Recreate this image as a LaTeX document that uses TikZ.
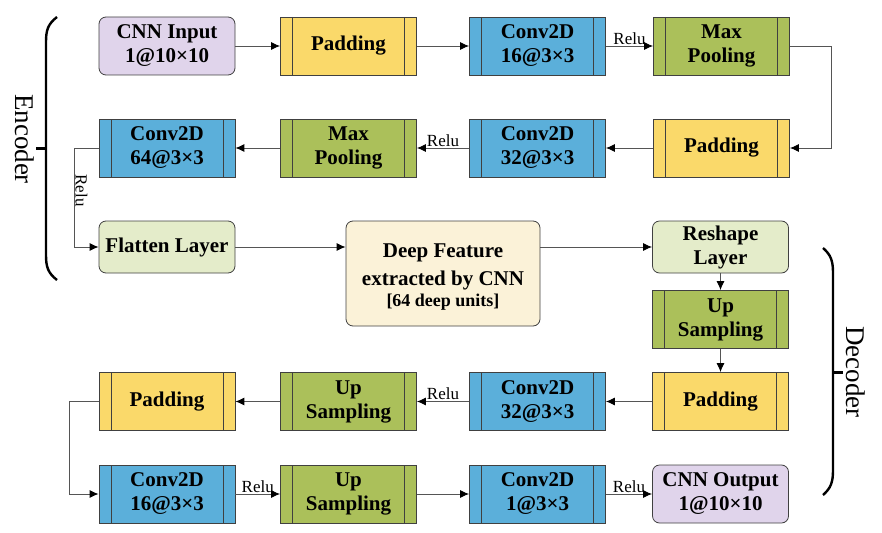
\documentclass[tikz,border=0pt]{standalone}
\usepackage{fontspec}
\setmainfont{Liberation Serif}
\usetikzlibrary{arrows.meta}
\definecolor{bordc}{HTML}{404040}
\definecolor{linec}{HTML}{555555}
\definecolor{inputc}{HTML}{E0D4EB}
\definecolor{padc}{HTML}{FAD96A}
\definecolor{convc}{HTML}{5BAFDA}
\definecolor{poolc}{HTML}{ABC05A}
\definecolor{flatc}{HTML}{E4ECCA}
\definecolor{deepc}{HTML}{FBF2D8}
\tikzset{
  txt/.style={font=\fontsize{21}{24}\selectfont\bfseries, align=center, text=black, inner sep=0pt},
  layer/.style={txt, rectangle, draw=bordc, line width=0.8pt, minimum width=136pt, minimum height=58pt,
    path picture={\draw[bordc, line width=0.8pt]
      ([xshift=12pt]path picture bounding box.north west) -- ([xshift=12pt]path picture bounding box.south west)
      ([xshift=-12pt]path picture bounding box.north east) -- ([xshift=-12pt]path picture bounding box.south east);}},
  padbox/.style={layer, fill=padc},
  convbox/.style={layer, fill=convc},
  poolbox/.style={layer, fill=poolc},
  rbox/.style={txt, rectangle, rounded corners=7pt, draw=bordc, line width=0.8pt, minimum width=136pt},
  conn/.style={draw=linec, line width=0.9pt, -{Latex[length=9pt,width=8pt,color=black]}},
  relu/.style={font=\fontsize{17}{19}\selectfont, inner sep=1pt, text=black},
  brace/.style={draw=black, line width=2.4pt},
  side/.style={font=\fontsize{27}{30}\selectfont, inner sep=0pt}
}
\begin{document}
\begin{tikzpicture}[x=1pt,y=-1pt]
\useasboundingbox (0,0) rectangle (882,532);
% row 1
\node[rbox, fill=inputc, minimum height=58pt] (in) at (167,46) {CNN Input\\1@10×10};
\node[padbox] (p1) at (348.5,46) {Padding};
\node[convbox] (c1) at (537.5,46) {Conv2D\\16@3×3};
\node[poolbox] (m1) at (721.5,46) {Max\\Pooling};
% row 2
\node[padbox] (p2) at (721.5,148) {Padding};
\node[convbox] (c2) at (537.5,148) {Conv2D\\32@3×3};
\node[poolbox] (m2) at (348.5,148) {Max\\Pooling};
\node[convbox] (c3) at (167,148) {Conv2D\\64@3×3};
% row 3
\node[rbox, fill=flatc, minimum height=52pt] (fl) at (167,247) {Flatten Layer};
\node[rbox, fill=deepc, minimum width=194pt, minimum height=105pt] (df) at (443,273.5) {};
\node[txt] (dft) at (443,277)
  {Deep Feature\\[4pt]extracted by CNN\\[-3pt]{\fontsize{18}{20}\selectfont [64 deep units]}};
\node[rbox, fill=flatc, minimum height=52pt] (rs) at (720.5,247) {Reshape\\Layer};
\node[poolbox] (u1) at (720.5,319.5) {Up\\Sampling};
% row 5
\node[padbox] (p3) at (720.5,401.5) {Padding};
\node[convbox] (c4) at (537.5,401.5) {Conv2D\\32@3×3};
\node[poolbox] (u2) at (348.5,401.5) {Up\\Sampling};
\node[padbox] (p4) at (167,401.5) {Padding};
% row 6
\node[convbox] (c5) at (167,494) {Conv2D\\16@3×3};
\node[poolbox] (u3) at (348.5,494) {Up\\Sampling};
\node[convbox] (c6) at (537.5,494) {Conv2D\\1@3×3};
\node[rbox, fill=inputc, minimum height=58pt] (out) at (720.5,494) {CNN Output\\1@10×10};
% connectors
\draw[conn] (in) -- (p1);
\draw[conn] (p1) -- (c1);
\draw[conn] (c1) -- node[relu, anchor=south] {Relu} (m1);
\coordinate (k1) at (831,46);
\coordinate (k2) at (831,148);
\draw[conn] (m1.east) -- (k1) -- (k2) -- (p2.east);
\draw[conn] (p2) -- (c2);
\draw[conn] (c2) -- node[relu, anchor=south] {Relu} (m2);
\draw[conn] (m2) -- (c3);
\coordinate (k3) at (74,148);
\coordinate (k4) at (74,247);
\draw[conn] (c3.west) -- (k3) -- node[relu, rotate=-90, anchor=south, pos=0.43] {Relu} (k4) -- (fl.west);
\draw[conn] (fl) -- (df.west |- fl.east);
\draw[conn] (df.east |- rs.west) -- (rs.west);
\draw[conn] (rs) -- (u1);
\draw[conn] (u1) -- (p3);
\draw[conn] (p3) -- (c4);
\draw[conn] (c4) -- node[relu, anchor=south] {Relu} (u2);
\draw[conn] (u2) -- (p4);
\coordinate (k5) at (69,401.5);
\coordinate (k6) at (69,494);
\draw[conn] (p4.west) -- (k5) -- (k6) -- (c5.west);
\draw[conn] (c5) -- node[relu, anchor=south] {Relu} (u3);
\draw[conn] (u3) -- (c6);
\draw[conn] (c6) -- node[relu, anchor=south] {Relu} (out);
% encoder brace
\draw[brace] (57,17) .. controls (48,24) and (46,30) .. (46,42) -- (46,255) .. controls (46,267) and (48,273) .. (57,280);
\draw[brace] (46,148.5) -- (36,148.5);
\node[side, rotate=-90] (enc) at (25,139) {Encoder};
% decoder brace
\draw[brace] (823,248) .. controls (831,255) and (833,261) .. (833,273) -- (833,470) .. controls (833,482) and (831,488) .. (823,495);
\draw[brace] (833,372.5) -- (843,372.5);
\node[side, rotate=-90] (dec) at (856,372) {Decoder};
\end{tikzpicture}
\end{document}
